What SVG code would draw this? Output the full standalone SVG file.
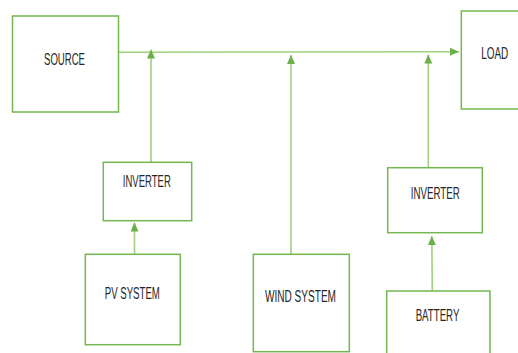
<svg xmlns="http://www.w3.org/2000/svg" width="518" height="353" viewBox="0 0 518 353">
<defs>
<style>
.box{fill:#fff;stroke:#74B64F;stroke-width:1.5}
.conn{fill:none;stroke:#9FD17F;stroke-width:1.6}
.lbl{font-family:"Liberation Sans",Arial,sans-serif;font-size:16px;fill:#262626;text-anchor:middle}
</style>
<marker id="ah" viewBox="0 0 9 8" refX="9" refY="4" markerWidth="9" markerHeight="8" markerUnits="userSpaceOnUse" orient="auto">
<path d="M0,0 L9,4 L0,8 z" fill="#6DAE48"/>
</marker>
</defs>
<rect width="518" height="353" fill="#fff"/>
<g id="connectors">
<path class="conn" d="M118.5,52.3 L459,51.7" marker-end="url(#ah)"/>
<path class="conn" d="M151,162 L151,49.5" marker-end="url(#ah)"/>
<path class="conn" d="M291,254 L291,55" marker-end="url(#ah)"/>
<path class="conn" d="M428.3,167.5 L428.3,54.5" marker-end="url(#ah)"/>
<path class="conn" d="M134.5,254 L134.5,222.5" marker-end="url(#ah)"/>
<path class="conn" d="M432.3,290.5 L431.8,236" marker-end="url(#ah)"/>
</g>
<g id="source">
<rect class="box" x="12.5" y="16" width="106" height="96"/>
<text class="lbl" x="64.5" y="65" textLength="41" lengthAdjust="spacingAndGlyphs">SOURCE</text>
</g>
<g id="load">
<rect class="box" x="461.3" y="11" width="62" height="98"/>
<text class="lbl" x="494.7" y="59.3" textLength="27" lengthAdjust="spacingAndGlyphs">LOAD</text>
</g>
<g id="inverter1">
<rect class="box" x="103.3" y="162.3" width="88.4" height="58.4"/>
<text class="lbl" x="146.8" y="187.3" textLength="48" lengthAdjust="spacingAndGlyphs">INVERTER</text>
</g>
<g id="pv">
<rect class="box" x="85.3" y="254.3" width="95" height="90.4"/>
<text class="lbl" x="132.3" y="298.7" textLength="55" lengthAdjust="spacingAndGlyphs">PV SYSTEM</text>
</g>
<g id="wind">
<rect class="box" x="253.3" y="254.3" width="96" height="97.4"/>
<text class="lbl" x="300.5" y="302.3" textLength="71" lengthAdjust="spacingAndGlyphs">WIND SYSTEM</text>
</g>
<g id="inverter2">
<rect class="box" x="387.7" y="167.7" width="94.6" height="65"/>
<text class="lbl" x="435.3" y="198.7" textLength="49" lengthAdjust="spacingAndGlyphs">INVERTER</text>
</g>
<g id="battery">
<rect class="box" x="386.7" y="291" width="103.3" height="70"/>
<text class="lbl" x="437.5" y="321.3" textLength="43.7" lengthAdjust="spacingAndGlyphs">BATTERY</text>
</g>
</svg>
